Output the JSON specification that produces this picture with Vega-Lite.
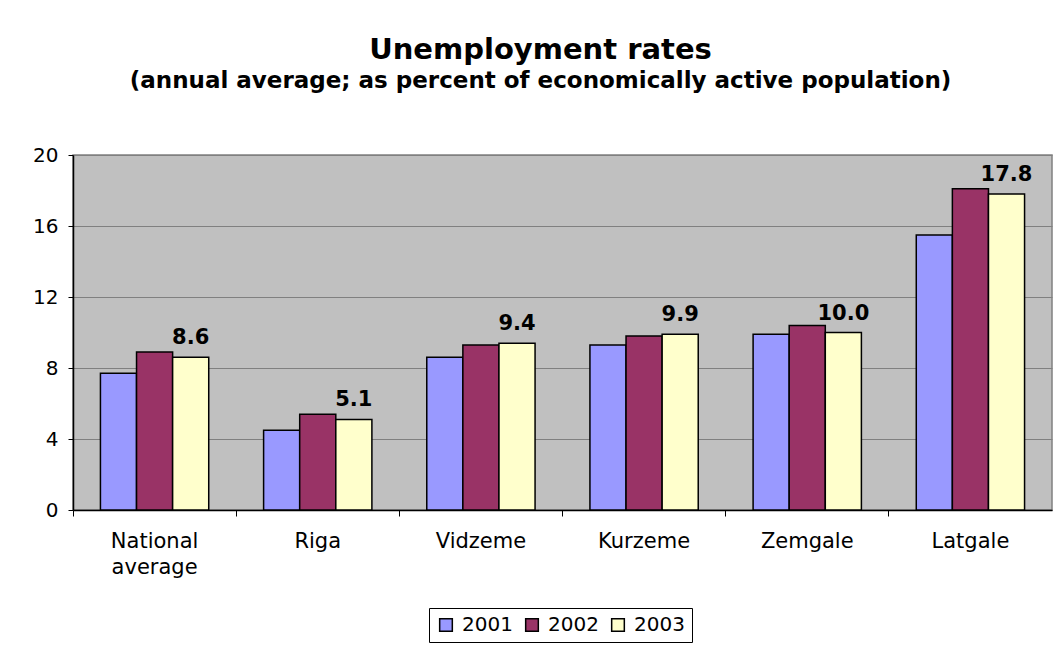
{
  "$schema": "https://vega.github.io/schema/vega-lite/v6.json",
  "autosize": {"type": "none"},
  "width": 979,
  "height": 355,
  "padding": {"left": 73, "top": 155, "right": 8, "bottom": 138},
  "background": "white",
  "config": {
    "font": "DejaVu Sans",
    "view": {"fill": "#C0C0C0", "stroke": "#808080", "strokeWidth": 1.5}
  },
  "title": {
    "text": "Unemployment rates",
    "subtitle": "(annual average; as percent of economically active population)",
    "font": "DejaVu Sans",
    "fontSize": 29,
    "fontWeight": "bold",
    "color": "black",
    "subtitleFont": "DejaVu Sans",
    "subtitleFontSize": 23,
    "subtitleFontWeight": "bold",
    "subtitleColor": "black",
    "subtitlePadding": 5,
    "anchor": "middle",
    "dx": -22,
    "offset": 52
  },
  "data": {
    "values": [
      {"region": "National average", "year": "2001", "value": 7.7},
      {"region": "National average", "year": "2002", "value": 8.9},
      {"region": "National average", "year": "2003", "value": 8.6},
      {"region": "Riga", "year": "2001", "value": 4.5},
      {"region": "Riga", "year": "2002", "value": 5.4},
      {"region": "Riga", "year": "2003", "value": 5.1},
      {"region": "Vidzeme", "year": "2001", "value": 8.6},
      {"region": "Vidzeme", "year": "2002", "value": 9.3},
      {"region": "Vidzeme", "year": "2003", "value": 9.4},
      {"region": "Kurzeme", "year": "2001", "value": 9.3},
      {"region": "Kurzeme", "year": "2002", "value": 9.8},
      {"region": "Kurzeme", "year": "2003", "value": 9.9},
      {"region": "Zemgale", "year": "2001", "value": 9.9},
      {"region": "Zemgale", "year": "2002", "value": 10.4},
      {"region": "Zemgale", "year": "2003", "value": 10.0},
      {"region": "Latgale", "year": "2001", "value": 15.5},
      {"region": "Latgale", "year": "2002", "value": 18.1},
      {"region": "Latgale", "year": "2003", "value": 17.8}
    ]
  },
  "encoding": {
    "xOffset": {
      "field": "year",
      "type": "nominal",
      "scale": {"paddingInner": 0, "paddingOuter": 0.76}
    },
    "y": {
      "field": "value",
      "type": "quantitative",
      "scale": {"domain": [0, 20]},
      "axis": {
        "title": null,
        "values": [0, 4, 8, 12, 16, 20],
        "labelFontSize": 20,
        "labelColor": "black",
        "labelPadding": 10,
        "tickSize": 5,
        "tickColor": "black",
        "domainColor": "black",
        "domainWidth": 1.5,
        "gridColor": "#808080",
        "gridWidth": 1
      }
    }
  },
  "layer": [
    {
      "mark": {"type": "bar", "stroke": "black", "strokeWidth": 1.5},
      "encoding": {
        "x": {
          "field": "region",
          "type": "nominal",
          "sort": ["National average", "Riga", "Vidzeme", "Kurzeme", "Zemgale", "Latgale"],
          "scale": {"paddingInner": 0, "paddingOuter": 0},
          "axis": {
            "orient": "bottom",
            "title": null,
            "labelAngle": 0,
            "labelFontSize": 21,
            "labelColor": "black",
            "labelPadding": 20,
            "labelLineHeight": 26,
            "labelExpr": "datum.value == 'National average' ? ['National', 'average'] : datum.value",
            "ticks": false,
            "domainColor": "black",
            "domainWidth": 1.5,
            "grid": false
          }
        },
        "color": {
          "field": "year",
          "type": "nominal",
          "scale": {"domain": ["2001", "2002", "2003"], "range": ["#9999FF", "#993366", "#FFFFCC"]},
          "legend": {
            "title": null,
            "orient": "none",
            "legendX": 356,
            "legendY": 453,
            "direction": "horizontal",
            "labelFontSize": 20,
            "labelColor": "black",
            "symbolType": "square",
            "symbolSize": 160,
            "symbolStrokeColor": "black",
            "symbolStrokeWidth": 1.5,
            "symbolOpacity": 1,
            "strokeColor": "black",
            "fillColor": "white",
            "padding": 7,
            "columnPadding": 9,
            "labelOffset": 6
          }
        }
      }
    },
    {
      "transform": [{"filter": "datum.year == '2003'"}],
      "mark": {"type": "text", "fontSize": 21, "fontWeight": "bold", "color": "black", "dy": -13, "baseline": "alphabetic"},
      "encoding": {
        "x": {
          "field": "region",
          "type": "nominal",
          "sort": ["National average", "Riga", "Vidzeme", "Kurzeme", "Zemgale", "Latgale"],
          "axis": null
        },
        "text": {"field": "value", "type": "quantitative", "format": ".1f"}
      }
    },
    {
      "transform": [{"filter": "datum.year == '2003'"}],
      "mark": {"type": "tick", "opacity": 0},
      "encoding": {
        "xOffset": {"value": 0},
        "x": {
          "field": "region",
          "type": "nominal",
          "sort": ["National average", "Riga", "Vidzeme", "Kurzeme", "Zemgale", "Latgale"],
          "axis": {
            "orient": "bottom",
            "title": null,
            "labels": false,
            "domain": false,
            "grid": false,
            "ticks": true,
            "bandPosition": 0,
            "tickSize": 6,
            "tickColor": "black"
          }
        }
      }
    }
  ],
  "resolve": {"axis": {"x": "independent"}}
}
